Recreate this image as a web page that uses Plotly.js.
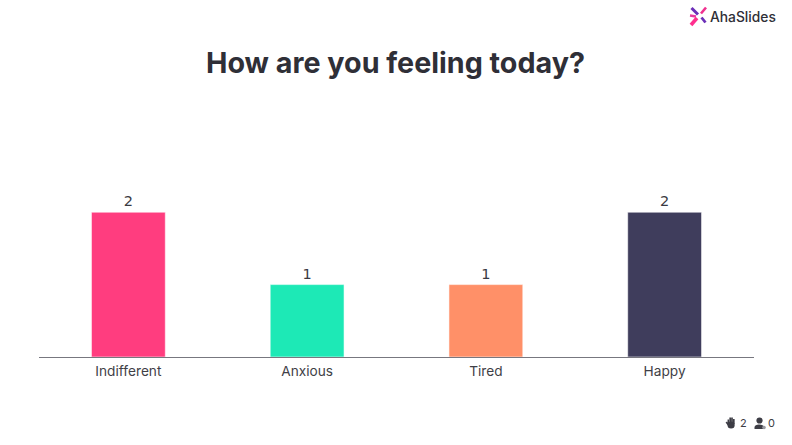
<!DOCTYPE html>
<html><head><meta charset="utf-8">
<script src="https://cdn.plot.ly/plotly-3.0.1.min.js"></script>
<style>html,body{margin:0;padding:0;background:#fff;overflow:hidden}</style></head>
<body><div id="chart" style="width:792px;height:445px"></div>
<script>
const categories = ["Indifferent", "Anxious", "Tired", "Happy"];
const values = [2, 1, 1, 2];
const barColors = ["#FF3D7F", "#1DE9B6", "#FF9068", "#3F3D5C"];
const titleText = "How are you feeling today?";
const brandText = "AhaSlides";
const handCount = "2";
const personCount = "0";

const W = 792, H = 445;
const mL = 39, mR = 38, mT = 176, mB = 88;
const pw = W - mL - mR, ph = H - mT - mB;
// paper coordinates are relative to the plot area
const px = x => (x - mL) / pw, py = y => 1 - (y - mT) / ph;
const shapes = [];
function seg(x0, y0, x1, y1, color, w) {
  shapes.push({type:"line", xref:"paper", yref:"paper", x0:px(x0), y0:py(y0), x1:px(x1), y1:py(y1),
    line:{color:color, width:w}});
}
function dot(cx, cy, r, color) {
  shapes.push({type:"circle", xref:"paper", yref:"paper", x0:px(cx-r), x1:px(cx+r), y0:py(cy-r), y1:py(cy+r),
    fillcolor:color, line:{width:0}});
}
// logo mark
seg(691.5, 8, 698, 14.5, "#6B2FB8", 3);
seg(706, 7.5, 701, 13.5, "#F0308F", 2.6);
seg(690, 15.5, 696, 16.5, "#E83AA0", 2.4);
seg(697, 18, 691, 25, "#FF2F8E", 3.6);
seg(701.5, 17.5, 705.5, 22.5, "#6B2FB8", 2.8);
// hand icon
[[728.4,419.5],[730.2,417.5],[732,417.5],[733.8,419]].forEach(f => seg(f[0], 424, f[0], f[1], "#3d3d45", 1.7));
seg(728.5, 425, 726.3, 422, "#3d3d45", 1.8);
dot(731.1, 425, 3.6, "#3d3d45");
// person icon
dot(759.5, 420.5, 3.1, "#3d3d45");
shapes.push({type:"path", xref:"paper", yref:"paper",
  path:`M ${px(754.5)} ${py(429)} L ${px(754.5)} ${py(427)} Q ${px(755)} ${py(424.5)} ${px(759)} ${py(424.5)} Q ${px(763.5)} ${py(424.5)} ${px(764)} ${py(427)} L ${px(764)} ${py(429)} Z`,
  fillcolor:"#3d3d45", line:{width:0}});
dot(764, 427.5, 1.8, "#9a9aa0");

const tf = "Inter, 'Noto Sans', sans-serif";
const note = (x, y, text, size, color, anchor, weight) => ({
  xref:"paper", yref:"paper", x:px(x), y:py(y), text:text, showarrow:false,
  xanchor:anchor || "left", yanchor:"middle", borderpad:0, borderwidth:0,
  font:{family:tf, size:size, color:color, weight:weight || 400}
});

const trace = {
  type:"bar", x:categories, y:values, width:0.413,
  marker:{color:barColors, line:{color:"rgba(255,255,255,0.55)", width:1}},
  text:values.map(String), textposition:"outside", cliponaxis:false,
  textfont:{family:"'DejaVu Sans', sans-serif", size:14.5, color:"#3a3a42"},
  hoverinfo:"x+y"
};
const layout = {
  width:W, height:H, showlegend:false, paper_bgcolor:"#fff", plot_bgcolor:"#fff",
  margin:{l:mL, r:mR, t:mT, b:mB, pad:0},
  title:{text:titleText, x:395.5/W, xanchor:"center", y:1-63/H, yanchor:"middle",
    font:{family:tf, size:28.7, weight:700, color:"#2f2f37"}},
  xaxis:{type:"category", range:[-0.5,3.5], showgrid:false, zeroline:false, ticks:"",
    showline:true, linecolor:"#77777f", linewidth:1, ticklabelstandoff:2,
    tickfont:{family:tf, size:13.7, color:"#3f3f47"}, automargin:false},
  yaxis:{range:[0,2.5], visible:false, showgrid:false, zeroline:false, fixedrange:true},
  shapes:shapes,
  annotations:[
    note(710, 16.5, brandText, 13.8, "#2f2f37", "left", 500),
    note(739.5, 423, handCount, 11, "#3d3d45"),
    note(767.5, 423, personCount, 11, "#3d3d45")
  ]
};
Plotly.newPlot("chart", [trace], layout, {displayModeBar:false, responsive:false});
</script></body></html>
